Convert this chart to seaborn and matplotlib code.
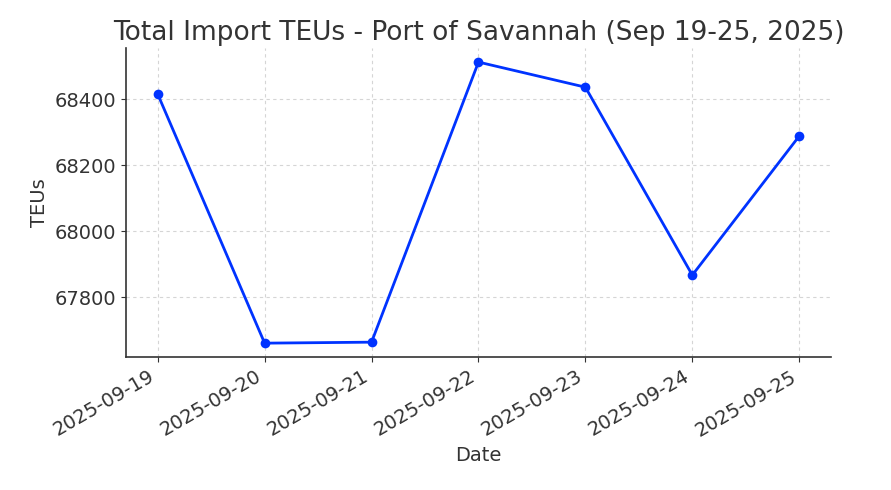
import pandas as pd
import matplotlib.pyplot as plt
import matplotlib.dates as mdates
import seaborn as sns

# daily import TEUs, Port of Savannah
dates = ['2025-09-19', '2025-09-20', '2025-09-21', '2025-09-22',
         '2025-09-23', '2025-09-24', '2025-09-25']
teus = [68415, 67661, 67664, 68512, 68436, 67867, 68288]

data = pd.DataFrame({'Date': pd.to_datetime(dates), 'TEUs': teus})

sns.set_style('ticks')
plt.rcParams['text.color'] = '#333333'
plt.rcParams['axes.labelcolor'] = '#333333'
plt.rcParams['xtick.color'] = '#333333'
plt.rcParams['ytick.color'] = '#333333'
plt.rcParams['axes.edgecolor'] = '#333333'

fig, ax = plt.subplots(figsize=(8.91, 4.9), dpi=100)
sns.lineplot(x='Date', y='TEUs', data=data, marker='o', color='#0033ff',
             linewidth=2, markersize=7, markeredgewidth=0, ax=ax)

ax.grid(True, linestyle=(0, (3, 3)), color='#d5d5d5', linewidth=0.8)
ax.xaxis.set_major_locator(mdates.DayLocator())
ax.xaxis.set_major_formatter(mdates.DateFormatter('%Y-%m-%d'))
ax.tick_params(labelsize=14)
plt.setp(ax.get_xticklabels(), rotation=30, ha='right')
sns.despine()
ax.spines['left'].set_linewidth(1.2)
ax.spines['bottom'].set_linewidth(1.2)

ax.set_title('Total Import TEUs - Port of Savannah (Sep 19-25, 2025)', fontsize=19)
ax.set_xlabel('Date', fontsize=14)
ax.set_ylabel('TEUs', fontsize=14)

plt.subplots_adjust(left=0.141, right=0.933, top=0.902, bottom=0.271)
plt.savefig('out.png', dpi=100)
